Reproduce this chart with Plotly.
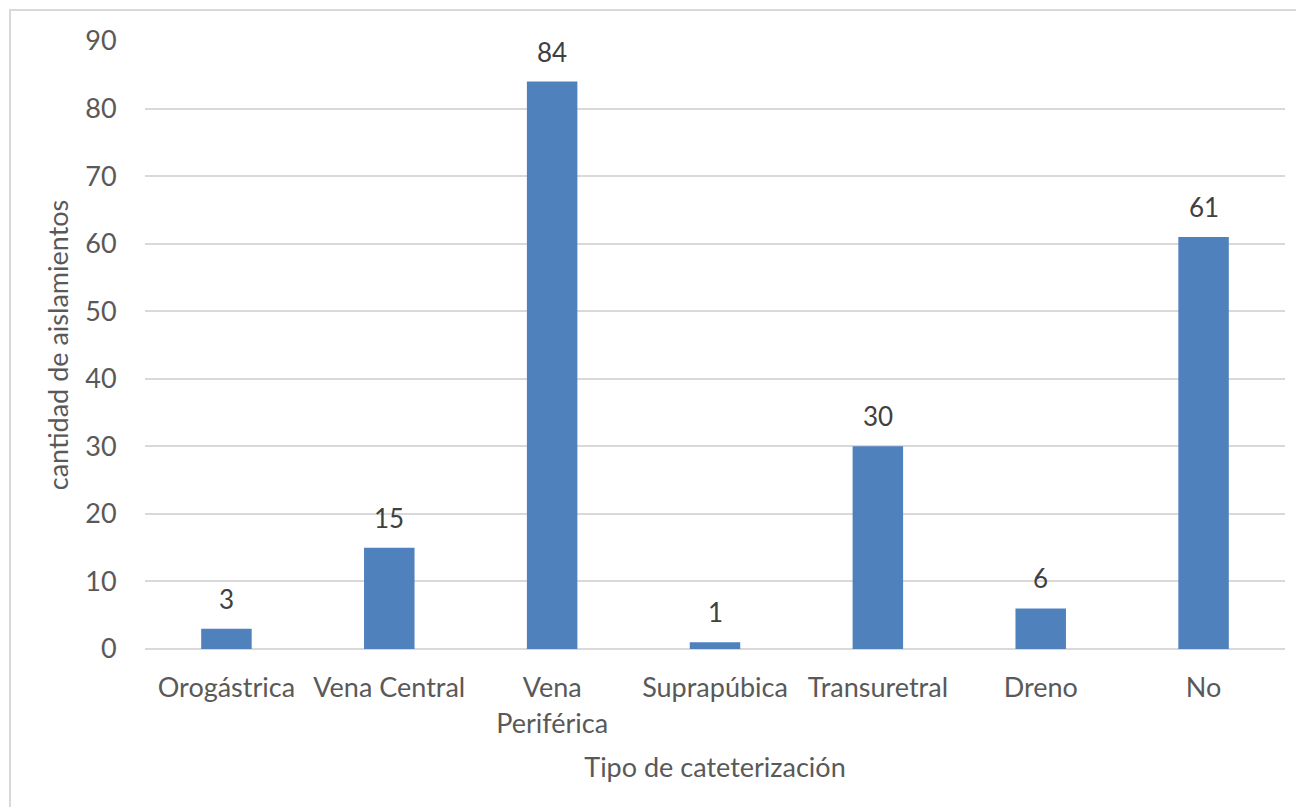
import plotly.graph_objects as go

categorias = ["Orogástrica", "Vena Central", "Vena<br>Periférica", "Suprapúbica",
              "Transuretral", "Dreno", "No"]
aislamientos = [3, 15, 84, 1, 30, 6, 61]
y_ticks = list(range(0, 91, 10))

FONT = "Lato"
GRIS = "#595959"

fig = go.Figure(
    go.Bar(
        x=categorias,
        y=aislamientos,
        marker=dict(color="#4f81bd", line=dict(width=0)),
        width=0.31,
    )
)

# etiquetas de datos encima de cada barra
for cat, val in zip(categorias, aislamientos):
    fig.add_annotation(
        x=cat, y=val, text=str(val), showarrow=False,
        yanchor="bottom", yshift=12,
        font=dict(family=FONT, size=26, color="#404040"),
    )

# marco del gráfico (borde derecho e inferior quedan fuera de la imagen)
fig.add_shape(
    type="rect", xref="paper", yref="paper",
    x0=-0.1184, x1=1.06, y0=-0.3, y1=1.051,
    line=dict(color="#d9d9d9", width=2), fillcolor="rgba(0,0,0,0)",
)

fig.update_layout(
    width=1296, height=799,
    margin=dict(l=137, r=19, t=33, b=158),
    paper_bgcolor="white", plot_bgcolor="white",
    showlegend=False,
    font=dict(family=FONT, color=GRIS),
    xaxis=dict(
        title=dict(text="Tipo de cateterización", font=dict(size=27, color=GRIS), standoff=20),
        tickfont=dict(size=27, color=GRIS),
        ticks="outside", ticklen=15, tickcolor="rgba(0,0,0,0)",
        showgrid=False, showline=False,
    ),
    yaxis=dict(
        title=dict(text="cantidad de aislamientos", font=dict(size=27, color=GRIS), standoff=8),
        range=[0, 90], tickvals=y_ticks,
        tickfont=dict(size=27, color=GRIS),
        ticks="outside", ticklen=22, tickcolor="rgba(0,0,0,0)",
        gridcolor="#d9d9d9", gridwidth=2,
        zeroline=True, zerolinecolor="#d9d9d9", zerolinewidth=2,
        showline=False,
    ),
)

fig.write_html("out.html")
